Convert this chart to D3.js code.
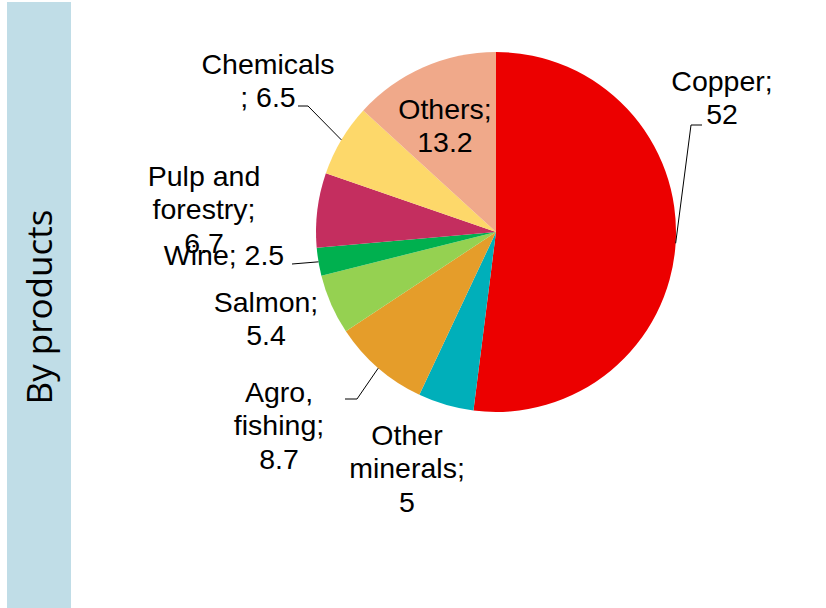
<!DOCTYPE html>
<html>
<head>
<meta charset="utf-8">
<script src="https://cdn.jsdelivr.net/npm/d3@7"></script>
<style>
  html, body { margin: 0; padding: 0; background: #ffffff; }
  svg { display: block; }
</style>
</head>
<body>
<svg id="chart" width="826" height="608"></svg>
<script>
// ---- Data ----
const categories = ["Copper", "Other minerals", "Agro, fishing", "Salmon", "Wine", "Pulp and forestry", "Chemicals", "Others"];
const values = [52, 5, 8.7, 5.4, 2.5, 6.7, 6.5, 13.2];
const labelLines = [
  ["Copper;", "52"],
  ["Other", "minerals;", "5"],
  ["Agro,", "fishing;", "8.7"],
  ["Salmon;", "5.4"],
  ["Wine; 2.5"],
  ["Pulp and", "forestry;", "6.7"],
  ["Chemicals", "; 6.5"],
  ["Others;", "13.2"]
];
const sideTitle = "By products";

// ---- Style / layout ----
const colors = ["#EC0000", "#00AFBA", "#E59D2A", "#95D151", "#00B04F", "#C42E5F", "#FDD86A", "#F0A98A"];
const W = 826, H = 608;
const cx = 496, cy = 232, R = 180;
const fontSize = 28.5, lineH = 33.3;
// label anchor: centre x and first baseline y; leader: elbow points (null = no leader)
const labelLayout = [
  { x: 722, y: 91,  leader: [[691, 125], [702, 125]] },
  { x: 407, y: 445, leader: null },
  { x: 279, y: 402, leader: [[357, 399], [345, 399]] },
  { x: 266, y: 312, leader: null },
  { x: 224, y: 265, leader: [[292, 264]] },
  { x: 204, y: 186, leader: null },
  { x: 268, y: 74,  leader: [[308, 106], [298, 106]] },
  { x: 445, y: 119, leader: null }
];

const svg = d3.select("#chart");

// side band
svg.append("rect")
  .attr("x", 7).attr("y", 2).attr("width", 64).attr("height", H - 2)
  .attr("fill", "#C0DDE7");
svg.append("text")
  .attr("transform", "translate(52," + 307 + ") rotate(-90)")
  .attr("text-anchor", "middle")
  .attr("font-family", "'Open Sans', sans-serif")
  .attr("font-size", 35)
  .attr("fill", "#000")
  .text(sideTitle);

// pie
const data = categories.map((c, i) => ({ name: c, value: values[i], idx: i }));
const pie = d3.pie().value(d => d.value).sort(null);
const arcs = pie(data);
const arc = d3.arc().innerRadius(0).outerRadius(R);
const edgeArc = d3.arc().innerRadius(R).outerRadius(R);

const g = svg.append("g").attr("transform", `translate(${cx},${cy})`);
g.selectAll("path.slice")
  .data(arcs)
  .join("path")
  .attr("class", "slice")
  .attr("d", arc)
  .attr("fill", d => colors[d.data.idx]);

// leader lines
const lineGen = d3.line();
arcs.forEach(a => {
  const L = labelLayout[a.data.idx];
  if (!L.leader) return;
  const mid = (a.startAngle + a.endAngle) / 2;
  const start = [cx + R * Math.sin(mid), cy - R * Math.cos(mid)];
  const pts = [start].concat(L.leader);
  svg.append("path")
    .attr("d", lineGen(pts))
    .attr("fill", "none")
    .attr("stroke", "#000")
    .attr("stroke-width", 1);
});

// labels
arcs.forEach(a => {
  const i = a.data.idx;
  const L = labelLayout[i];
  const t = svg.append("text")
    .attr("text-anchor", "middle")
    .attr("font-family", "'Liberation Sans', Arial, sans-serif")
    .attr("font-size", fontSize)
    .attr("fill", "#000");
  labelLines[i].forEach((ln, k) => {
    t.append("tspan").attr("x", L.x).attr("y", L.y + k * lineH).text(ln);
  });
});
</script>
</body>
</html>
